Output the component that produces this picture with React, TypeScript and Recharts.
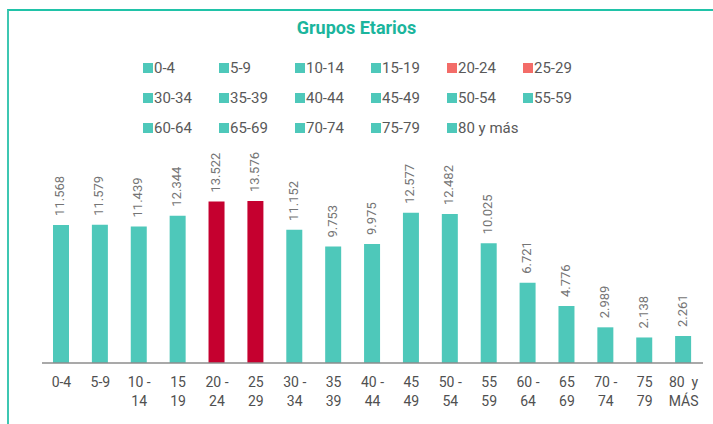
import React from 'react';
import { BarChart, Bar, XAxis, YAxis, Cell, LabelList } from 'recharts';

const CATEGORIES = [
  '0-4', '5-9', '10-14', '15-19', '20-24', '25-29', '30-34', '35-39', '40-44',
  '45-49', '50-54', '55-59', '60-64', '65-69', '70-74', '75-79', '80 y más',
];

const VALUES = [
  11568, 11579, 11439, 12344, 13522, 13576, 11152, 9753, 9975,
  12577, 12482, 10025, 6721, 4776, 2989, 2138, 2261,
];

// axis labels wrap onto two lines in the original
const TICK_LINE_1 = [
  '0-4', '5-9', '10 -', '15', '20 -', '25', '30 -', '35', '40 -',
  '45', '50 -', '55', '60 -', '65', '70 -', '75', '80\u00a0\u00a0y',
];
const TICK_LINE_2 = [
  '', '', '14', '19', '24', '29', '34', '39', '44',
  '49', '54', '59', '64', '69', '74', '79', 'MÁS',
];

const HIGHLIGHTED = ['20-24', '25-29'];

const TEAL = '#4ec8ba';
const BAR_RED = '#c5002f';
const LEGEND_RED = '#f36c68';
const FONT = 'Roboto, "Noto Sans", sans-serif';

const formatValue = (v: number | string) =>
  String(v).replace(/\B(?=(\d{3})+(?!\d))/g, '.');

const chartData = CATEGORIES.map((name, i) => ({ name, value: VALUES[i] }));

const renderValueLabel = (props: any) => {
  const { x, y, width, value } = props;
  const cx = Number(x) + Number(width) / 2 - 1;
  const ty = Number(y) - 9;
  return (
    <text
      x={cx}
      y={ty}
      transform={`rotate(-90 ${cx} ${ty})`}
      textAnchor="start"
      dominantBaseline="central"
      fontSize={13}
      fontFamily={FONT}
      fill="#757575"
    >
      {formatValue(value)}
    </text>
  );
};

const AgeTick = (props: any) => {
  const { x, y, payload } = props;
  const idx = typeof payload?.index === 'number' ? payload.index : CATEGORIES.indexOf(payload?.value);
  return (
    <g>
      <text x={x} y={y + 24} textAnchor="middle" fontSize={14} fontFamily={FONT} fill="#505050">
        {TICK_LINE_1[idx]}
      </text>
      {TICK_LINE_2[idx] && (
        <text x={x} y={y + 43} textAnchor="middle" fontSize={14} fontFamily={FONT} fill="#505050">
          {TICK_LINE_2[idx]}
        </text>
      )}
    </g>
  );
};

export default function App() {
  return (
    <div
      style={{
        position: 'absolute',
        left: 0,
        top: 0,
        width: 713,
        height: 424,
        background: '#fff',
        overflow: 'hidden',
        fontFamily: FONT,
      }}
    >
      {/* frame */}
      <div
        style={{
          position: 'absolute',
          left: 7,
          top: 9,
          width: 800,
          height: 500,
          borderTop: '2px solid #20c3a8',
          borderLeft: '2px solid #3ec7b2',
        }}
      />
      <div
        style={{
          position: 'absolute',
          top: 17,
          left: 0,
          width: 713,
          textAlign: 'center',
          fontSize: 18,
          fontWeight: 700,
          color: '#1bb59d',
        }}
      >
        Grupos Etarios
      </div>
      {/* legend */}
      <div
        style={{
          position: 'absolute',
          left: 143,
          top: 58,
          display: 'grid',
          gridTemplateColumns: 'repeat(6, 76px)',
          rowGap: 10,
        }}
      >
        {CATEGORIES.map((c) => (
          <div key={c} style={{ display: 'flex', alignItems: 'center', height: 20 }}>
            <span
              style={{
                width: 10,
                height: 10,
                marginRight: 1,
                background: HIGHLIGHTED.includes(c) ? LEGEND_RED : TEAL,
              }}
            />
            <span style={{ fontSize: 15, lineHeight: '20px', color: '#595959' }}>{c}</span>
          </div>
        ))}
      </div>
      <BarChart
        width={713}
        height={424}
        data={chartData}
        margin={{ top: 172, right: 10, bottom: 21, left: 42 }}
        style={{ position: 'absolute', left: 0, top: 0 }}
      >
        <XAxis
          dataKey="name"
          height={40}
          interval={0}
          tickLine={false}
          tickSize={0}
          tickMargin={0}
          axisLine={{ stroke: '#8c8c8c', strokeWidth: 1.5 }}
          tick={<AgeTick />}
        />
        <YAxis hide domain={[0, 16000]} />
        <Bar dataKey="value" barSize={16} isAnimationActive={false}>
          {chartData.map((d) => (
            <Cell key={d.name} fill={HIGHLIGHTED.includes(d.name) ? BAR_RED : TEAL} />
          ))}
          <LabelList dataKey="value" content={renderValueLabel} />
        </Bar>
      </BarChart>
    </div>
  );
}
